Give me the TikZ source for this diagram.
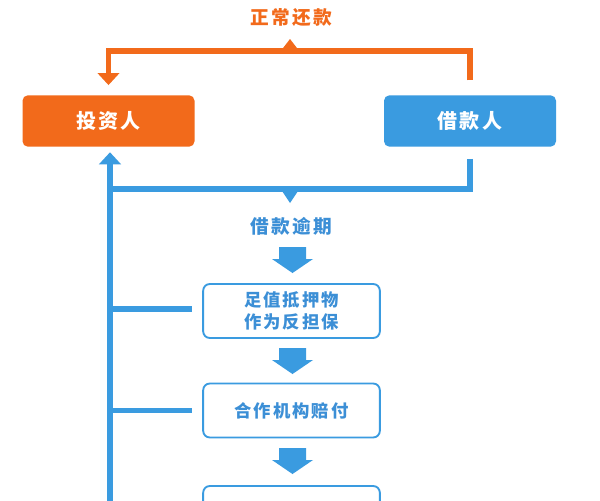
\documentclass[tikz,border=0pt]{standalone}
\usepackage{fontspec}
\setmainfont{Noto Sans CJK SC}[LetterSpace=12]
\usetikzlibrary{arrows.meta}
\definecolor{org}{HTML}{F26A1B}
\definecolor{blu}{HTML}{3A9BE0}
\definecolor{blutext}{HTML}{3C8FD6}
\tikzset{
  px/.style={x=0.75pt,y=-0.75pt},
  orgline/.style={draw=org,line width=3.8pt},
  bluline/.style={draw=blu,line width=3.8pt},
  party/.style={rounded corners=4pt,minimum width=129pt,minimum height=38.5pt,text=white,font=\fontsize{15}{17}\selectfont\bfseries,inner sep=0pt},
  stepbox/.style={draw=blu,line width=1.4pt,fill=white,rounded corners=5pt,minimum width=132.5pt,minimum height=40.5pt,text=blutext,font=\fontsize{13}{16}\selectfont\bfseries,align=center,inner sep=0pt},
  lbl/.style={font=\fontsize{14}{16}\selectfont\bfseries,inner sep=0pt},
  bigarrow/.style={fill=blu,draw=none}
}
\begin{document}
\begin{tikzpicture}[px]
\useasboundingbox (0,0) rectangle (600,500);
\clip (0,0) rectangle (600,500);
\fill[white] (0,0) rectangle (600,500);
% parties
\node[party,fill=org] (inv) at (108.5,121) {投资人};
\node[party,fill=blu] (bor) at (470,121) {借款人};
\node[lbl,text=org] (top) at (291,17) {正常还款};
% orange loop
\coordinate (ortop) at (290,51);
\draw[orgline,-{Triangle[width=16pt,length=9pt]}] ([yshift=11pt]bor.north) |- (ortop) -| ([yshift=7.5pt]inv.north);
\fill[org] (280,52) -- (300,52) -- (290,39) -- cycle;
% blue loop
\coordinate (blmid) at (290,189);
\coordinate (blbot) at (110,520);
\draw[bluline] ([yshift=-9pt]bor.south) |- (blmid) -- (110,189);
\draw[bluline,-{Triangle[width=16pt,length=9pt]}] (blbot) -- ([yshift=-4pt]inv.south -| blbot);
\fill[blu] (280,188) -- (300,188) -- (290,203) -- cycle;
\node[lbl,text=blutext] (late) at (291,226) {借款逾期};
% steps
\node[stepbox] (s1) at (291.5,311) {足值抵押物\\[0pt]作为反担保};
\node[stepbox] (s2) at (291.5,410.5) {合作机构赔付};
\node[stepbox] (s3) at (291.5,513) {};
% branches
\draw[bluline] (110,309) -- ([xshift=-7.5pt]s1.west |- 0,309);
\draw[bluline] (110,410.5) -- ([xshift=-7.5pt]s2.west);
% block arrows
\foreach \y in {247,348,448}{
  \fill[blu] (279,\y) -- (306,\y) -- (306,\y+12) -- (313,\y+12) -- (292.5,\y+26) -- (272,\y+12) -- (279,\y+12) -- cycle;
}
\end{tikzpicture}
\end{document}
